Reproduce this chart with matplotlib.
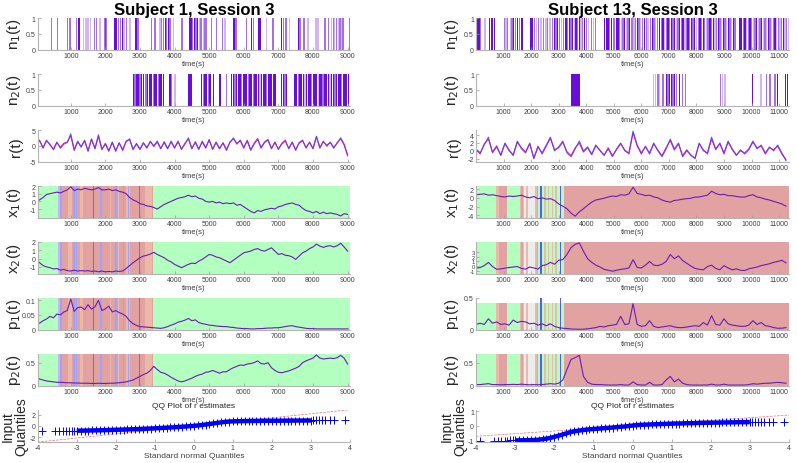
import numpy as np
import matplotlib
matplotlib.use('Agg')
from matplotlib import pyplot as plt
from matplotlib.ticker import FormatStrFormatter

plt.rcParams['font.family'] = ['Liberation Sans', 'DejaVu Sans']
plt.rcParams['axes.unicode_minus'] = False

#---------------- Subject 1 (left column) ----------------
# n1 events: time (s) and shade level (3 dark, 2 medium, 1 light)
n1_s1_t = [50, 450, 620, 910, 980, 1170, 1220, 1250, 1370, 1420,
           1470, 1520, 1570, 1680, 1750, 1850, 1990, 2020, 2280, 2330,
           2380, 2440, 2490, 2540, 2620, 2710, 2890, 2940, 3340, 3440,
           3580, 3630, 3680, 3740, 3770, 3820, 3870, 3970, 4210, 4450,
           4480, 4520, 4570, 4620, 4670, 4720, 4760, 4830, 4880, 4930,
           5070, 5220, 5390, 5460, 5700, 5740, 5780, 6080, 6230, 6280,
           6420, 6470, 6660, 6850, 7090, 7140, 7220, 7330, 7580, 7620,
           7740, 7860, 8090, 8150, 8350, 8440, 8540, 8590, 8630, 8680,
           8730, 8780, 8830, 8870, 9060]
n1_s1_lv = [3, 2, 2, 2, 2, 2, 3, 3, 1, 1,
            1, 1, 1, 2, 2, 1, 2, 2, 3, 3,
            2, 2, 3, 1, 2, 1, 3, 2, 2, 2,
            1, 2, 2, 3, 2, 3, 2, 1, 2, 3,
            3, 2, 3, 2, 3, 1, 2, 1, 2, 2,
            2, 2, 2, 1, 3, 3, 2, 2, 3, 2,
            3, 3, 1, 2, 3, 2, 2, 1, 3, 2,
            2, 1, 1, 1, 2, 2, 1, 2, 1, 2,
            1, 2, 1, 2, 2]

n2_s1_t = [2810, 2860, 2910, 2955, 3000, 3050, 3100, 3175, 3225, 3290,
           3340, 3390, 3435, 3485, 3530, 3580, 3630, 3675, 3870, 3915,
           4015, 4400, 4445, 4495, 4785, 4830, 4880, 4930, 4975, 5025,
           5120, 5315, 5505, 5650, 5700, 5745, 5795, 5840, 5890, 5940,
           5985, 6035, 6085, 6130, 6180, 6225, 6275, 6325, 6370, 6420,
           6470, 6515, 6565, 6610, 6660, 6710, 6755, 6805, 6855, 6900,
           7095, 7140, 7190, 7240, 7480, 7525, 7575, 7625, 7670, 7720,
           7765, 7815, 7865, 7910, 7960, 8010, 8055, 8105, 8155, 8200,
           8250, 8295, 8345, 8395, 8440, 8490, 8535, 8585, 8635, 8680,
           8730, 8780, 8825, 8875, 8925, 8970, 9020]
n2_s1_lv = [3, 2, 3, 3, 2, 3, 3, 2, 3, 3,
            3, 2, 3, 3, 2, 3, 3, 3, 3, 2,
            1, 3, 3, 3, 3, 2, 3, 3, 2, 3,
            3, 3, 2, 3, 3, 2, 3, 3, 3, 2,
            3, 3, 3, 2, 3, 3, 2, 3, 3, 3,
            1, 3, 3, 3, 2, 3, 3, 3, 3, 3,
            3, 3, 2, 3, 3, 3, 2, 3, 3, 3,
            1, 3, 3, 3, 2, 3, 3, 3, 1, 3,
            3, 2, 3, 3, 3, 1, 3, 3, 2, 3,
            3, 3, 2, 3, 3, 3, 3]

# continuous series, one value every 100 s
r_s1 = [0.5, 1.5, -0.5, 1.8, 0.2, -1.0, 1.2, -0.8, 0.5, 1.0,
        3.8, -1.2, 1.5, -0.5, 1.8, -1.5, 2.0, -0.8, 3.5, -1.0,
        0.5, -1.8, 1.2, -1.5, 0.8, -1.2, 1.5, 2.0, -1.0, 0.5,
        -1.2, 0.8, -0.5, 1.2, 0.0, 1.5, -0.8, 1.0, -1.0, 1.5,
        -0.5, 1.2, -1.0, 0.5, 2.5, -0.8, 1.0, -1.2, 1.5, -0.5,
        1.8, -1.0, 1.2, -0.8, 0.8, -1.5, 1.0, 2.5, 0.5, 1.8,
        -0.5, 1.5, -1.5, 0.5, 2.0, -0.5, 1.2, 2.0, -0.8, 1.0,
        -1.0, 0.5, 1.5, -0.8, 1.0, -1.2, 0.8, 1.5, -0.5, 1.0,
        -0.8, 3.0, -0.5, 1.2, 0.2, 1.0, -0.5, 0.8, 2.5, 0.5,
        -2.8]
r_est_s1 = [0.2, 1.8, -0.8, 1.5, 0.5, -1.3, 1.0, -0.5, 0.8, 1.2,
            3.2, -1.5, 1.2, -0.2, 1.5, -1.8, 2.2, -1.0, 3.0, -1.3,
            0.8, -1.5, 1.0, -1.8, 1.0, -1.5, 1.2, 2.2, -1.3, 0.8,
            -1.0, 1.0, -0.8, 1.5, -0.3, 1.2, -1.0, 1.3, -0.8, 1.2,
            -0.8, 1.5, -1.2, 0.8, 2.2, -1.0, 1.3, -1.0, 1.2, -0.8,
            2.0, -1.2, 1.0, -1.0, 1.0, -1.2, 1.2, 2.2, 0.8, 1.5,
            -0.8, 1.8, -1.2, 0.8, 2.3, -0.8, 1.0, 1.8, -1.0, 1.2,
            -1.2, 0.8, 1.8, -1.0, 1.2, -1.5, 1.0, 1.8, -0.8, 1.2,
            -1.0, 2.8, -0.8, 1.5, -0.2, 1.2, -0.8, 1.0, 2.2, 0.3,
            -3.2]
x1_s1 = [-0.1, 0.2, 0.5, 0.9, 1.0, 1.1, 1.2, 1.1, 1.3, 1.5,
         1.9, 1.4, 1.6, 1.5, 1.7, 1.6, 1.5, 1.6, 1.8, 1.5,
         1.5, 1.6, 1.4, 1.5, 1.3, 1.2, 1.0, 0.5, 0.2, 0.0,
         -0.3, -0.4, -0.6, -0.65, -0.8, -1.0, -0.7, -0.4, -0.2, 0.0,
         0.2, 0.4, 0.5, 0.6, 0.8, 0.6, 0.7, 0.4, 0.3, 0.0,
         -0.1, 0.0, -0.2, -0.1, -0.3, -0.2, -0.3, -0.2, -0.5, -0.4,
         -0.7, -1.0, -1.3, -1.5, -1.2, -1.3, -1.1, -1.0, -0.9, -1.0,
         -0.7, -0.6, -0.4, -0.3, -0.2, -0.4, -0.5, -0.9, -1.2, -1.3,
         -1.5, -1.3, -1.6, -1.4, -1.6, -1.5, -1.6, -1.7, -1.9, -1.6,
         -1.7]
x2_s1 = [-0.1, -0.5, -0.85, -1.0, -1.1, -1.25, -1.2, -1.4, -1.3, -1.45,
         -1.5, -1.4, -1.5, -1.45, -1.5, -1.45, -1.55, -1.5, -1.6, -1.5,
         -1.6, -1.55, -1.6, -1.5, -1.55, -1.5, -1.2, -0.85, -0.5, -0.2,
         0.1, 0.3, 0.4, 0.55, 0.75, 0.5, 0.3, 0.1, -0.2, -0.4,
         -0.7, -0.9, -1.1, -0.9, -0.7, -0.55, -0.6, -0.3, -0.1, 0.2,
         0.5, 0.4, 0.2, 0.1, -0.1, -0.3, -0.5, -0.2, 0.1, 0.4,
         0.7, 0.8, 0.9, 1.1, 1.2, 1.0, 0.9, 1.1, 1.3, 0.9,
         0.5, 0.6, 0.4, 0.35, 0.2, -0.1, 0.3, 0.7, 0.9, 1.2,
         1.4, 1.75, 1.5, 1.35, 1.5, 1.55, 1.4, 1.55, 1.85, 1.4,
         0.9]
p1_s1 = [0.019, 0.022, 0.03, 0.036, 0.045, 0.04, 0.053, 0.05, 0.06, 0.065,
         0.105, 0.062, 0.075, 0.077, 0.068, 0.085, 0.07, 0.078, 0.1, 0.065,
         0.071, 0.08, 0.06, 0.065, 0.058, 0.053, 0.045, 0.03, 0.02, 0.014,
         0.01, 0.009, 0.008, 0.007, 0.006, 0.005, 0.004, 0.006, 0.01, 0.015,
         0.019, 0.025, 0.028, 0.032, 0.038, 0.03, 0.033, 0.024, 0.02, 0.018,
         0.015, 0.014, 0.012, 0.011, 0.01, 0.01, 0.008, 0.007, 0.005, 0.004,
         0.003, 0.003, 0.002, 0.002, 0.003, 0.003, 0.004, 0.005, 0.005, 0.006,
         0.006, 0.008, 0.01, 0.012, 0.013, 0.01, 0.008, 0.006, 0.004, 0.003,
         0.003, 0.002, 0.002, 0.002, 0.002, 0.002, 0.002, 0.002, 0.002, 0.002,
         0.002]
p2_s1 = [0.2, 0.14, 0.12, 0.1, 0.09, 0.08, 0.07, 0.07, 0.065, 0.06,
         0.06, 0.055, 0.055, 0.05, 0.05, 0.05, 0.045, 0.045, 0.05, 0.045,
         0.045, 0.05, 0.05, 0.055, 0.06, 0.07, 0.08, 0.1, 0.12, 0.16,
         0.2, 0.24, 0.27, 0.33, 0.42, 0.35, 0.29, 0.27, 0.23, 0.18,
         0.14, 0.1, 0.08, 0.1, 0.13, 0.16, 0.2, 0.23, 0.25, 0.29,
         0.3, 0.33, 0.3, 0.27, 0.3, 0.3, 0.35, 0.39, 0.42, 0.45,
         0.44, 0.47, 0.48, 0.5, 0.54, 0.48, 0.47, 0.5, 0.39, 0.33,
         0.29, 0.28, 0.3, 0.32, 0.35, 0.38, 0.42, 0.5, 0.54, 0.57,
         0.6, 0.67, 0.6, 0.58, 0.59, 0.6, 0.59, 0.61, 0.66, 0.6,
         0.47]

# state shading: segment edges (s) and state keys
shade_s1_edges = [0, 645, 700, 740, 930, 1030, 1075, 1125, 1160, 1185, 1270, 1360,
                  1645, 1665, 1840, 1895, 2120, 2150, 2280, 2330, 2370, 2400, 2515,
                  2550, 2610, 2650, 2680, 2720, 2975, 2990, 3140, 3340, 3365, 3390, 9100]
shade_s1_keys = ['G', 'L', 'B', 'R', 'P', 'R', 'B', 'R', 'B', 'R', 'P',
                 'R', 'D', 'R', 'B', 'R', 'P', 'R', 'B', 'R', 'P', 'R',
                 'B', 'R', 'P', 'B', 'P', 'R', 'D', 'R', 'P', 'R', 'D', 'G']

#---------------- Subject 13 (right column) ----------------
n1_s13_t = [0, 50, 110, 175, 330, 500, 575, 660, 1025, 1085,
            1145, 1245, 1305, 1365, 1425, 1510, 1570, 1665, 1995, 2055,
            2115, 2200, 2275, 2360, 2445, 2540, 2600, 2685, 2785, 2845,
            2905, 2965, 3025, 3110, 3170, 3270, 3330, 3390, 3450, 3510,
            3575, 3635, 3695, 3755, 3815, 3875, 3935, 4020, 4095, 4180,
            4265, 4340, 4665, 4725, 4785, 4845, 4930, 5005, 5090, 5150,
            5210, 5270, 5335, 5395, 5455, 5515, 5575, 5660, 5735, 5795,
            5855, 5915, 5975, 6035, 6120, 6180, 6240, 6325, 6400, 6460,
            6520, 6580, 6665, 6730, 6790, 6850, 6910, 6970, 7030, 7090,
            7155, 7215, 7275, 7335, 7395, 7455, 7515, 7580, 7640, 7700,
            7760, 7820, 7880, 7940, 8000, 8065, 8125, 8185, 8245, 8305,
            8365, 8425, 8490, 8550, 8610, 8670, 8730, 8790, 8850, 8910,
            8975, 9035, 9095, 9155, 9215, 9275, 9335, 9400, 9580, 9640,
            9700, 9760, 9825, 9885, 9945, 10005, 10065, 10125, 10185, 10250,
            10310, 10370, 10430, 10490, 10550, 10610, 10670, 10735, 10795, 10855,
            10915, 10975, 11035, 11095, 11160, 11220, 11280, 11340]
n1_s13_lv = [3, 3, 3, 2, 1, 3, 3, 3, 2, 1,
             2, 1, 2, 3, 2, 3, 2, 3, 3, 3,
             2, 1, 2, 1, 2, 1, 2, 1, 2, 3,
             2, 3, 2, 1, 2, 3, 2, 3, 2, 3,
             1, 3, 2, 3, 1, 2, 3, 2, 1, 2,
             1, 2, 3, 3, 3, 2, 3, 2, 3, 3,
             2, 1, 2, 3, 1, 2, 3, 2, 1, 2,
             3, 2, 1, 2, 3, 2, 1, 2, 3, 2,
             1, 2, 3, 2, 3, 1, 2, 3, 2, 3,
             2, 3, 1, 2, 3, 2, 3, 1, 2, 3,
             2, 3, 2, 3, 1, 2, 3, 2, 3, 2,
             1, 2, 3, 2, 3, 1, 2, 3, 2, 1,
             3, 2, 1, 3, 2, 1, 3, 2, 3, 3,
             2, 3, 1, 2, 3, 2, 1, 2, 3, 1,
             2, 3, 1, 2, 1, 3, 2, 1, 2, 3,
             1, 2, 1, 2, 3, 1, 2, 1]

n2_s13_t = [3460, 3500, 3540, 3580, 3620, 3660, 3700, 3740,
            6450, 6510, 6605, 6665, 6790, 6910, 6970, 7030, 7090, 7155, 7215, 7275, 7395, 7495, 7615,
            8875, 8935, 9035,
            10040, 10345, 10550, 10670, 10855, 10950, 11245, 11305]
n2_s13_lv = [3, 3, 3, 3, 3, 3, 3, 3,
             1, 1, 2, 1, 2, 3, 2, 3, 3, 2, 3, 2, 3, 2, 2,
             2, 1, 1,
             3, 1, 2, 2, 2, 3, 3, 3]

# continuous series, one value every 150 s
r_s13 = [0.5, -0.5, 1.5, 3.5, -0.5, 1.0, -1.0, 2.0, 0.0, -1.0,
         2.5, 0.5, -0.5, 2.0, -2.0, 1.0, -0.5, 1.5, 3.5, 0.0,
         1.0, 2.5, -0.5, -1.5, 0.5, 2.5, 0.0, 1.0, -0.8, 1.5,
         0.0, -1.0, 0.5, -1.5, 0.5, 2.0, 0.0, -0.5, 5.0, 1.5,
         -0.5, 1.0, -0.5, 2.0, 0.0, -1.5, 0.5, 3.0, 0.5, 2.0,
         -1.5, 0.0, -1.0, -2.0, 2.0, 0.0, -0.5, 3.5, 0.5, 2.0,
         -0.5, 2.5, 0.5, -1.0, 0.0, -0.5, 0.5, 2.5, 0.5, 1.5,
         -0.5, 1.0, 0.0, 1.5, -0.5, -2.5]
r_est_s13 = [0.3, -0.8, 1.8, 3.0, -0.3, 1.3, -1.2, 1.8, 0.3, -1.2,
             2.2, 0.8, -0.3, 1.8, -1.8, 1.2, -0.8, 1.2, 3.2, 0.3,
             0.8, 2.2, -0.2, -1.2, 0.8, 2.0, -0.3, 0.8, -1.0, 1.3,
             0.2, -1.2, 0.8, -1.2, 0.3, 1.8, 0.2, -0.8, 4.6, 1.2,
             -0.8, 1.2, -0.8, 1.8, 0.2, -1.2, 0.8, 2.6, 0.2, 1.8,
             -1.2, 0.3, -1.2, -1.8, 1.8, 0.3, -0.8, 3.0, 0.3, 1.8,
             -0.8, 2.2, 0.3, -1.2, 0.3, -0.8, 0.3, 2.2, 0.8, 1.2,
             -0.8, 0.8, 0.3, 1.2, -0.8, -2.2]
x1_s13 = [0.7, 0.8, 0.9, 0.6, 0.7, 0.5, 0.3, 0.2, 0.4, 0.3,
          0.4, 0.6, 0.2, 0.0, 0.3, -0.2, 0.0, -0.3, -0.2, -0.6,
          -1.4, -1.9, -2.5, -3.5, -4.2, -3.2, -2.5, -1.7, -1.0, -0.5,
          -0.3, -0.1, 0.2, 0.4, 0.3, 0.7, 0.6, 0.9, 2.4, 1.0,
          0.8, 0.5, 0.6, 0.2, 0.0, -0.5, -0.8, -1.0, -0.6, -0.5,
          -0.3, -0.2, -0.1, 0.15, 0.2, 0.4, 0.6, 1.5, 1.0, 0.7,
          0.8, 0.5, 0.5, 0.3, 0.2, 0.15, 0.5, 0.7, 0.2, 0.0,
          -0.3, -0.5, -0.8, -1.1, -1.4, -1.9]
x2_s13 = [-0.45, -0.3, 0.1, 0.8, -0.1, -0.7, -0.6, -0.45, -0.3, -0.2,
          -0.1, -0.5, -0.65, -0.2, -0.4, -0.65, 0.1, 0.3, 0.8, 0.4,
          1.25, 1.4, 2.5, 4.0, 4.7, 5.0, 3.2, 1.6, 0.8, 0.2,
          -0.2, -0.7, -0.9, -1.1, -0.9, -0.7, -0.6, -0.4, 1.4, -0.3,
          -0.4, 0.2, 1.0, 0.2, 0.1, 0.4, 1.0, 2.5, 1.6, 2.2,
          1.2, 0.6, 0.0, -0.5, -0.7, -0.8, -0.1, 0.2, -0.5, -0.8,
          0.1, -0.4, -0.8, -0.6, -0.9, -0.95, -0.6, -0.4, -0.2, 0.1,
          0.3, 0.5, 0.8, 1.0, 1.25, 0.7]
p1_s13 = [0.08, 0.1, 0.08, 0.17, 0.1, 0.12, 0.08, 0.09, 0.07, 0.15,
          0.11, 0.13, 0.12, 0.09, 0.1, 0.07, 0.09, 0.06, 0.09, 0.05,
          0.03, 0.02, 0.016, 0.008, 0.005, 0.004, 0.005, 0.01, 0.02, 0.03,
          0.05, 0.04, 0.06, 0.07, 0.08, 0.21, 0.08, 0.09, 0.41, 0.08,
          0.05, 0.06, 0.14, 0.05, 0.03, 0.04, 0.05, 0.06, 0.04, 0.03,
          0.03, 0.04, 0.05, 0.06, 0.05, 0.11, 0.07, 0.22, 0.08, 0.07,
          0.17, 0.09, 0.07, 0.06, 0.05, 0.05, 0.07, 0.14, 0.08, 0.11,
          0.06, 0.05, 0.03, 0.02, 0.02, 0.03]
p2_s13 = [0.02, 0.02, 0.03, 0.04, 0.02, 0.02, 0.015, 0.02, 0.02, 0.025,
          0.02, 0.03, 0.02, 0.015, 0.02, 0.015, 0.02, 0.03, 0.04, 0.03,
          0.05, 0.12, 0.35, 0.57, 0.61, 0.66, 0.2, 0.07, 0.03, 0.02,
          0.02, 0.015, 0.01, 0.01, 0.01, 0.02, 0.01, 0.01, 0.08, 0.02,
          0.01, 0.01, 0.07, 0.01, 0.01, 0.02, 0.12, 0.2, 0.08, 0.14,
          0.05, 0.02, 0.01, 0.01, 0.01, 0.01, 0.01, 0.03, 0.01, 0.01,
          0.03, 0.01, 0.01, 0.01, 0.01, 0.01, 0.02, 0.04, 0.03, 0.04,
          0.05, 0.05, 0.06, 0.07, 0.06, 0.05]

shade_s13_edges = [0, 730, 820, 1110, 1580, 1640, 1700, 1760, 1820, 1870, 2130, 2200,
                   2250, 2330, 2400, 2480, 2530, 2600, 2650, 2750, 2800, 2880, 2930,
                   3040, 3100, 3200, 11400]
shade_s13_keys = ['G', 'P', 'R', 'G', 'P', 'R', 'P', 'W', 'P', 'W', 'P', 'R',
                  'G', 'V', 'G', 'P', 'G', 'P', 'G', 'P', 'G', 'P', 'G', 'V', 'G', 'R']

#---------------- QQ plots ----------------
qq_x = [-3.9, -3.55, -3.45, -3.35, -3.27, -3.2, -3.13, -3.06, -3.0,
        -2.9, -2.8, -2.7, -2.6, -2.5, -2.4, -2.3, -2.2, -2.1, -2.0,
        -1.9, -1.8, -1.7, -1.6, -1.5, -1.4, -1.3, -1.2, -1.1, -1.0,
        -0.9, -0.8, -0.7, -0.6, -0.5, -0.4, -0.3, -0.2, -0.1, 0.0,
        0.1, 0.2, 0.3, 0.4, 0.5, 0.6, 0.7, 0.8, 0.9, 1.0,
        1.1, 1.2, 1.3, 1.4, 1.5, 1.6, 1.7, 1.8, 1.9, 2.0,
        2.1, 2.2, 2.3, 2.4, 2.5, 2.6, 2.7, 2.8, 2.9, 3.0,
        3.06, 3.13, 3.2, 3.28, 3.37, 3.48, 3.6, 3.88]
qq_y_s1 = [-0.95, -0.92, -0.91, -0.9, -0.89, -0.88, -0.87, -0.86, -0.85,
           -0.84, -0.83, -0.82, -0.8, -0.79, -0.77, -0.75, -0.73, -0.71, -0.69,
           -0.67, -0.65, -0.63, -0.6, -0.58, -0.55, -0.52, -0.49, -0.46, -0.43,
           -0.4, -0.36, -0.32, -0.28, -0.24, -0.2, -0.15, -0.1, -0.05, 0.0,
           0.07, 0.15, 0.24, 0.33, 0.43, 0.53, 0.62, 0.7, 0.76, 0.8,
           0.82, 0.84, 0.85, 0.86, 0.87, 0.88, 0.88, 0.89, 0.9, 0.9,
           0.91, 0.91, 0.92, 0.92, 0.93, 0.93, 0.94, 0.94, 0.95, 0.95,
           0.96, 0.96, 0.97, 0.97, 0.98, 0.98, 0.99, 1.0]
qq_y_s13 = [-1.0, -1.0, -1.0, -0.99, -0.99, -0.99, -0.98, -0.98, -0.98,
            -0.97, -0.97, -0.96, -0.96, -0.95, -0.93, -0.9, -0.86, -0.81, -0.74,
            -0.67, -0.59, -0.51, -0.43, -0.37, -0.33, -0.29, -0.26, -0.23, -0.21,
            -0.19, -0.17, -0.15, -0.13, -0.11, -0.08, -0.06, -0.04, -0.01, 0.02,
            0.05, 0.07, 0.08, 0.09, 0.1, 0.11, 0.12, 0.13, 0.14, 0.15,
            0.16, 0.16, 0.17, 0.18, 0.18, 0.19, 0.2, 0.2, 0.21, 0.21,
            0.22, 0.22, 0.23, 0.23, 0.24, 0.24, 0.25, 0.25, 0.25, 0.26,
            0.26, 0.26, 0.27, 0.27, 0.27, 0.28, 0.28, 0.28]
qq_ref_x = [-4, 4]
qq_ref_s1 = [-2.85, 2.85]
qq_ref_s13 = [-0.7, 0.73]

#---------------- styles / helpers ----------------
purple = (0.42, 0.05, 0.85)
lvl_alpha = {3: 1.0, 2: 0.6, 1: 0.3}
shade_col = {'G': '#b3ffc0', 'R': '#e3a2a2', 'B': '#a2a2f4', 'L': '#c6b8ef',
             'P': '#eab9a8', 'D': '#8a62c8', 'W': '#ececec', 'V': '#5a5af2'}
line_col = '#6a1cb8'

W, H = 797, 464
fig = plt.figure(figsize=(W / 100, H / 100), dpi=100)

col_x = [37.7, 476.0]
col_w = [312.3, 313.0]
xlims = [(45, 9070), (0, 11360)]
xticks = [list(range(1000, 9001, 1000)), list(range(1000, 11001, 1000))]
steps = [100, 150]
tick_fs = 5


def panel(col, row):
    top = 19 + 56 * row
    ax = fig.add_axes([col_x[col] / W, 1 - (top + 31.5) / H, col_w[col] / W, 31.5 / H])
    ax.spines['top'].set_visible(False)
    ax.spines['right'].set_visible(False)
    for s in ['left', 'bottom']:
        ax.spines[s].set_color('#b4b4b4')
        ax.spines[s].set_linewidth(0.8)
    ax.tick_params(direction='in', length=2, width=0.5, color='#999999',
                   labelcolor='#404040', labelsize=tick_fs, pad=1.5)
    ax.xaxis.set_major_formatter(FormatStrFormatter('%g'))
    ax.yaxis.set_major_formatter(FormatStrFormatter('%g'))
    return ax


def time_panel(ax, col, label):
    ax.set_xlim(xlims[col])
    ax.set_xticks(xticks[col])
    ax.set_xlabel('time(s)', fontsize=5.5, color='#404040', labelpad=1)
    ax.set_ylabel(label, fontsize=11, color='#262626')
    ax.yaxis.set_label_coords(-15 / col_w[col], 0.5)


def events(ax, t, lv, width):
    cols = [purple + (lvl_alpha[l],) for l in lv]
    ax.bar(t, [1] * len(t), width=width, color=cols, linewidth=0)
    ax.set_ylim(0, 1)
    ax.set_yticks([0, 0.5, 1])


def shade(ax, edges, keys, lo, hi, vivid_hi=None):
    for s, e, k in zip(edges[:-1], edges[1:], keys):
        top = vivid_hi if (vivid_hi is not None and k == 'V') else hi
        ax.bar(s, top - lo, width=e - s, bottom=lo, align='edge',
               color=shade_col[k], linewidth=0, zorder=0)


def series(ax, col, vals, lo, hi, ticks, edges, keys, shade_hi=None, vivid_hi=None):
    t = np.arange(len(vals)) * steps[col]
    shade(ax, edges, keys, lo, hi if shade_hi is None else shade_hi, vivid_hi)
    ax.plot(t, vals, color=line_col, linewidth=0.8, zorder=2)
    ax.set_ylim(lo, hi)
    ax.set_yticks(ticks)


columns = [
    dict(n1=(n1_s1_t, n1_s1_lv), n2=(n2_s1_t, n2_s1_lv), r=r_s1, r_est=r_est_s1,
         x1=x1_s1, x2=x2_s1, p1=p1_s1, p2=p2_s1, edges=shade_s1_edges, keys=shade_s1_keys,
         qq_y=qq_y_s1, qq_ref=qq_ref_s1, title='Subject 1, Session 3', width=40),
    dict(n1=(n1_s13_t, n1_s13_lv), n2=(n2_s13_t, n2_s13_lv), r=r_s13, r_est=r_est_s13,
         x1=x1_s13, x2=x2_s13, p1=p1_s13, p2=p2_s13, edges=shade_s13_edges, keys=shade_s13_keys,
         qq_y=qq_y_s13, qq_ref=qq_ref_s13, title='Subject 13, Session 3', width=48),
]

# y ranges per column: (lo, hi, ticks)
r_lim = [(-5, 5, [-5, 0, 5]), (-2.7, 5.3, [-2, 0, 2, 4])]
x1_lim = [(-2.1, 2.0, [-1, 0, 1, 2]), (-4.5, 2.7, [-4, -2, 0, 2])]
x2_lim = [(-1.8, 2.0, [-1, 0, 1, 2]), (-1.6, 5.2, [-1, 0, 1, 2, 3])]
p1_lim = [(0, 0.108, [0, 0.05, 0.1]), (0, 0.5, [0, 0.5])]
p2_lim = [(0, 0.69, [0, 0.5]), (0, 0.69, [0, 0.5])]
qq_lim = [(-2.75, 2.8, [-2, 0, 2]), (-1.05, 1.07, [-1, 0, 1])]

for c, d in enumerate(columns):
    # n1, n2 event bars
    ax = panel(c, 0)
    events(ax, d['n1'][0], d['n1'][1], d['width'])
    time_panel(ax, c, r'n$_1$(t)')
    fig.text((col_x[c] + col_w[c] / 2) / W, 1 - 10 / H, d['title'], ha='center', va='center',
             fontsize=12, fontweight='bold')

    ax = panel(c, 1)
    events(ax, d['n2'][0], d['n2'][1], d['width'])
    time_panel(ax, c, r'n$_2$(t)')

    # r(t)
    ax = panel(c, 2)
    lo, hi, tk = r_lim[c]
    ax.plot(np.arange(len(d['r_est'])) * steps[c], d['r_est'], color='#ff1a8c', linewidth=0.8)
    ax.plot(np.arange(len(d['r'])) * steps[c], d['r'], color='#4a3cff', linewidth=0.8, alpha=0.85)
    ax.set_ylim(lo, hi)
    ax.set_yticks(tk)
    time_panel(ax, c, 'r(t)')

    # state-shaded series
    ax = panel(c, 3)
    lo, hi, tk = x1_lim[c]
    series(ax, c, d['x1'], lo, hi, tk, d['edges'], d['keys'])
    time_panel(ax, c, r'x$_1$(t)')

    ax = panel(c, 4)
    lo, hi, tk = x2_lim[c]
    series(ax, c, d['x2'], lo, hi, tk, d['edges'], d['keys'])
    time_panel(ax, c, r'x$_2$(t)')
    if c == 1:
        ax.tick_params(axis='y', labelsize=4.2, pad=1)

    ax = panel(c, 5)
    lo, hi, tk = p1_lim[c]
    if c == 1:
        series(ax, c, d['p1'], lo, hi, tk, d['edges'], d['keys'], shade_hi=0.42, vivid_hi=0.5)
    else:
        series(ax, c, d['p1'], lo, hi, tk, d['edges'], d['keys'])
    time_panel(ax, c, r'p$_1$(t)')

    ax = panel(c, 6)
    lo, hi, tk = p2_lim[c]
    series(ax, c, d['p2'], lo, hi, tk, d['edges'], d['keys'])
    time_panel(ax, c, r'p$_2$(t)')

    # QQ plot: dense middle drawn as a thick band, every point as a '+'
    ax = panel(c, 7)
    lo, hi, tk = qq_lim[c]
    ax.plot(qq_ref_x, d['qq_ref'], linestyle='--', color='red', linewidth=0.5, alpha=0.6)
    ax.plot(qq_x[8:69], d['qq_y'][8:69], color='blue', linewidth=3.2, solid_capstyle='butt')
    ax.plot(qq_x, d['qq_y'], linestyle='none', marker='+', color='blue',
            markersize=5.5, markeredgewidth=0.7)
    ax.set_xlim(-4, 4)
    ax.set_ylim(lo, hi)
    ax.set_yticks(tk)
    ax.set_xticks(range(-4, 5))
    ax.set_title('QQ Plot of r estimates', fontsize=6, pad=2, color='#262626')
    ax.set_xlabel('Standard normal Quantiles', fontsize=6, color='#404040', labelpad=1)
    ax.set_ylabel('Input\nQuantiles', fontsize=10, color='#262626', linespacing=0.95)
    ax.yaxis.set_label_coords(-9 / col_w[c], 0.5)

fig.savefig('out.png', dpi=100)
